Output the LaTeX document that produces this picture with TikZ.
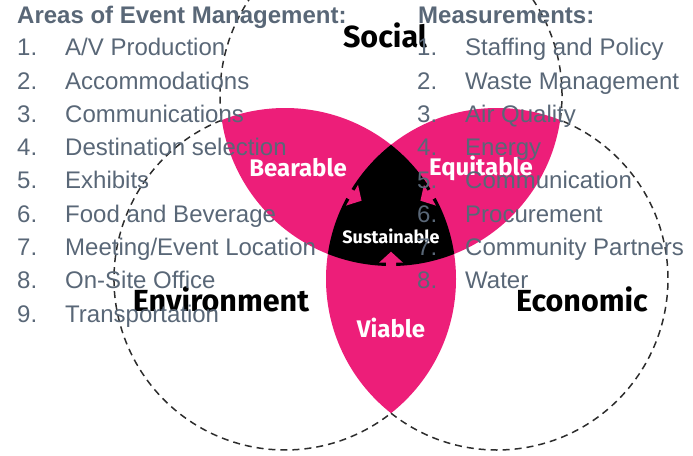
\documentclass[tikz,border=0pt]{standalone}
\usepackage{fontspec}
\setmainfont{Liberation Sans}
\newfontfamily\labfont{Fira Sans}
\usetikzlibrary{calc}
\definecolor{petal}{RGB}{237,30,121}
\definecolor{listgray}{RGB}{89,103,119}
\definecolor{rim}{RGB}{45,45,45}

\begin{document}
\begin{tikzpicture}[x=1pt,y=1pt,
  rimline/.style={draw=rim, line width=1.5pt, dash pattern=on 7pt off 5pt},
  setname/.style={font=\labfont\bfseries\fontsize{30.5}{32}\selectfont, text=black, inner sep=0pt},
  petalname/.style={font=\labfont\bfseries\fontsize{24}{26}\selectfont, text=white, inner sep=0pt},
  corename/.style={font=\labfont\bfseries\fontsize{18}{20}\selectfont, text=white, inner sep=0pt},
  listhead/.style={font=\bfseries\fontsize{24}{28}\selectfont, text=listgray, anchor=base west, inner sep=0pt},
  listitem/.style={font=\fontsize{24}{28}\selectfont, text=listgray, anchor=base west, inner sep=0pt},
]
\clip (0,0) rectangle (693,-455);
\def\R{171}
\coordinate (soc) at (391,-95);
\coordinate (env) at (285,-279);
\coordinate (eco) at (497,-279);

% pairwise overlaps of the three circles
\begin{scope}\clip (soc) circle (\R); \fill[petal] (env) circle (\R);\end{scope}
\begin{scope}\clip (soc) circle (\R); \fill[petal] (eco) circle (\R);\end{scope}
\begin{scope}\clip (env) circle (\R); \fill[petal] (eco) circle (\R);\end{scope}
% common core
\begin{scope}\clip (soc) circle (\R); \clip (env) circle (\R); \fill[black] (eco) circle (\R);\end{scope}

% block arrows pushing into the core
\foreach \a in {0,120,240} {
  \begin{scope}[shift={(391,-217.7)}, rotate=\a]
    \fill[petal] (0,-34) -- (12,-45) -- (5,-45) -- (5,-60) -- (-5,-60) -- (-5,-45) -- (-12,-45) -- cycle;
  \end{scope}
}

% outer dashed rims
\draw[rimline] (env) ++(111.67:\R) arc[start angle=111.67, end angle=308.31, radius=\R];
\draw[rimline] (eco) ++(231.69:\R) arc[start angle=231.69, end angle=428.33, radius=\R];
\draw[rimline] (soc) ++(-8.43:\R) arc[start angle=-8.43, end angle=188.43, radius=\R];

% circle and overlap names
\node[setname] (social) at (385,-35) {Social};
\node[setname] (environment) at (221,-299) {Environment};
\node[setname] (economic) at (582,-299) {Economic};
\node[petalname] (bearable) at (298,-168) {Bearable};
\node[petalname] (equitable) at (481,-168) {Equitable};
\node[petalname] (viable) at (391,-328) {Viable};
\node[corename] (sustainable) at (391,-236) {Sustainable};

% left list
\node[listhead] (areas) at (17,-23.3) {Areas of Event Management:};
\node[listitem] (an1) at (17,-55.7) {1.};  \node[listitem] (at1) at (65,-55.7) {A/V Production};
\node[listitem] (an2) at (17,-89.0) {2.};  \node[listitem] (at2) at (65,-89.0) {Accommodations};
\node[listitem] (an3) at (17,-122.3) {3.}; \node[listitem] (at3) at (65,-122.3) {Communications};
\node[listitem] (an4) at (17,-155.6) {4.}; \node[listitem] (at4) at (65,-155.6) {Destination selection};
\node[listitem] (an5) at (17,-188.9) {5.}; \node[listitem] (at5) at (65,-188.9) {Exhibits};
\node[listitem] (an6) at (17,-222.2) {6.}; \node[listitem] (at6) at (65,-222.2) {Food and Beverage};
\node[listitem] (an7) at (17,-255.5) {7.}; \node[listitem] (at7) at (65,-255.5) {Meeting/Event Location};
\node[listitem] (an8) at (17,-288.8) {8.}; \node[listitem] (at8) at (65,-288.8) {On-Site Office};
\node[listitem] (an9) at (17,-322.1) {9.}; \node[listitem] (at9) at (65,-322.1) {Transportation};

% right list
\node[listhead] (meas) at (418,-23.3) {Measurements:};
\node[listitem] (mn1) at (417,-55.7) {1.};  \node[listitem] (mt1) at (465,-55.7) {Staffing and Policy};
\node[listitem] (mn2) at (417,-89.0) {2.};  \node[listitem] (mt2) at (465,-89.0) {Waste Management};
\node[listitem] (mn3) at (417,-122.3) {3.}; \node[listitem] (mt3) at (465,-122.3) {Air Quality};
\node[listitem] (mn4) at (417,-155.6) {4.}; \node[listitem] (mt4) at (465,-155.6) {Energy};
\node[listitem] (mn5) at (417,-188.9) {5.}; \node[listitem] (mt5) at (465,-188.9) {Communication};
\node[listitem] (mn6) at (417,-222.2) {6.}; \node[listitem] (mt6) at (465,-222.2) {Procurement};
\node[listitem] (mn7) at (417,-255.5) {7.}; \node[listitem] (mt7) at (465,-255.5) {Community Partners};
\node[listitem] (mn8) at (417,-288.8) {8.}; \node[listitem] (mt8) at (465,-288.8) {Water};
\end{tikzpicture}
\end{document}
